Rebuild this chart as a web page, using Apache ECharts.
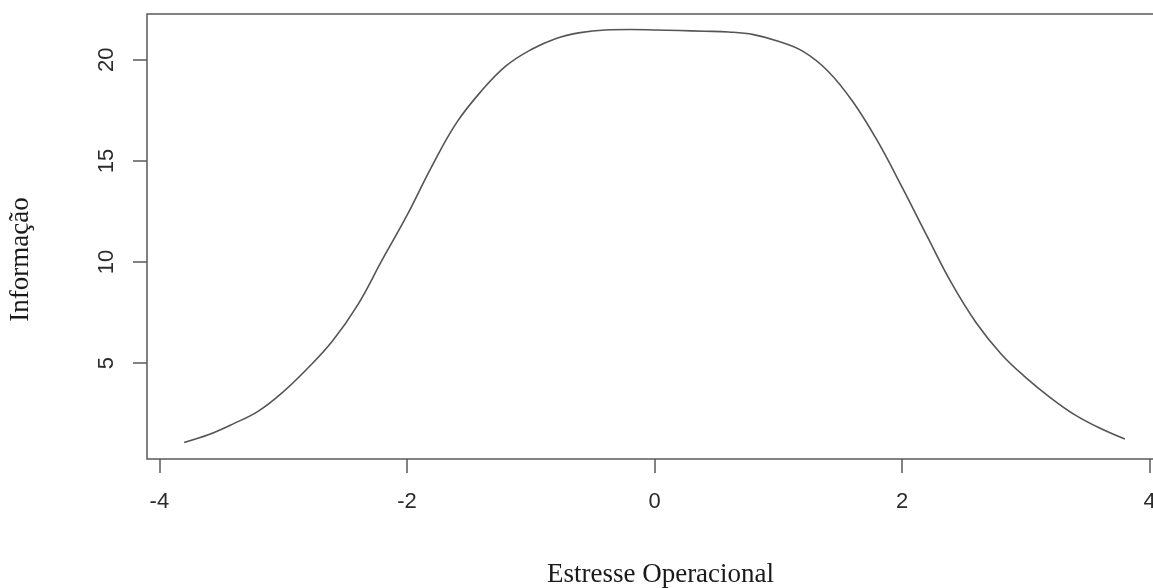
<!DOCTYPE html>
<html>
<head>
<meta charset="utf-8">
<script src="https://cdn.jsdelivr.net/npm/echarts@6/dist/echarts.min.js"></script>
<style>
  html, body { margin: 0; padding: 0; background: #fff; overflow: hidden; }
  /* o quadro do gráfico original passa da borda direita da imagem */
  #infoCurve { width: 1162px; height: 588px; }
</style>
</head>
<body>
<div id="infoCurve"></div>
<script>
// curva de informação
var theta = [-3.8, -3.6, -3.4, -3.2, -3.0, -2.8, -2.6, -2.4, -2.2, -2.0,
             -1.8, -1.6, -1.4, -1.2, -1.0, -0.8, -0.6, -0.4, -0.2, 0,
             0.2, 0.4, 0.6, 0.8, 1.0, 1.2, 1.4, 1.6, 1.8, 2.0,
             2.2, 2.4, 2.6, 2.8, 3.0, 3.2, 3.4, 3.6, 3.8];
var informacao = [1.07, 1.46, 2.0, 2.62, 3.57, 4.75, 6.1, 7.85, 10.1, 12.3,
                  14.72, 16.88, 18.45, 19.7, 20.5, 21.05, 21.35, 21.48, 21.5, 21.48,
                  21.45, 21.42, 21.38, 21.25, 20.92, 20.42, 19.45, 17.95, 16.0, 13.7,
                  11.3, 8.95, 6.98, 5.45, 4.28, 3.28, 2.42, 1.77, 1.24];
var xTicks = [-4, -2, 0, 2, 4];
var yTicks = [5, 10, 15, 20];

var points = theta.map(function (t, i) { return [t, informacao[i]]; });

var chart = echarts.init(document.getElementById('infoCurve'));
chart.setOption({
    backgroundColor: '#ffffff',
    animation: false,
    grid: {
        left: 147,
        top: 14,
        right: 0,
        bottom: 129,
        outerBoundsMode: 'none',
        show: true,
        borderColor: '#5a5a5a',
        borderWidth: 1.5,
        backgroundColor: 'transparent'
    },
    xAxis: {
        type: 'value',
        min: -4.1,
        max: 4.1,
        name: 'Estresse Operacional',
        nameLocation: 'middle',
        nameGap: 102,
        nameTextStyle: {
            fontFamily: 'Liberation Serif', fontSize: 27, color: '#1a1a1a',
            padding: [0, 0, 0, 12]
        },
        splitLine: { show: false },
        axisLine: { show: false, onZero: false },
        axisTick: {
            show: true,
            length: 14,
            customValues: xTicks,
            lineStyle: { color: '#5a5a5a', width: 1.5 }
        },
        axisLabel: {
            customValues: xTicks,
            margin: 32,
            fontFamily: 'Liberation Sans',
            fontSize: 22,
            color: '#2b2b2b'
        }
    },
    yAxis: {
        type: 'value',
        min: 0.25,
        max: 22.27,
        name: 'Informação',
        nameLocation: 'middle',
        nameGap: 113,
        nameTextStyle: {
            fontFamily: 'Liberation Serif', fontSize: 27, color: '#1a1a1a',
            padding: [0, 46, 0, 0]
        },
        splitLine: { show: false },
        axisLine: { show: false, onZero: false },
        axisTick: {
            show: true,
            length: 14,
            customValues: yTicks,
            lineStyle: { color: '#5a5a5a', width: 1.5 }
        },
        axisLabel: {
            customValues: yTicks,
            rotate: 90,
            margin: 29,
            fontFamily: 'Liberation Sans',
            fontSize: 22,
            color: '#2b2b2b'
        }
    },
    series: [{
        type: 'line',
        data: points,
        smooth: 0.4,
        showSymbol: false,
        lineStyle: { color: '#555555', width: 1.6 }
    }]
});
</script>
</body>
</html>
